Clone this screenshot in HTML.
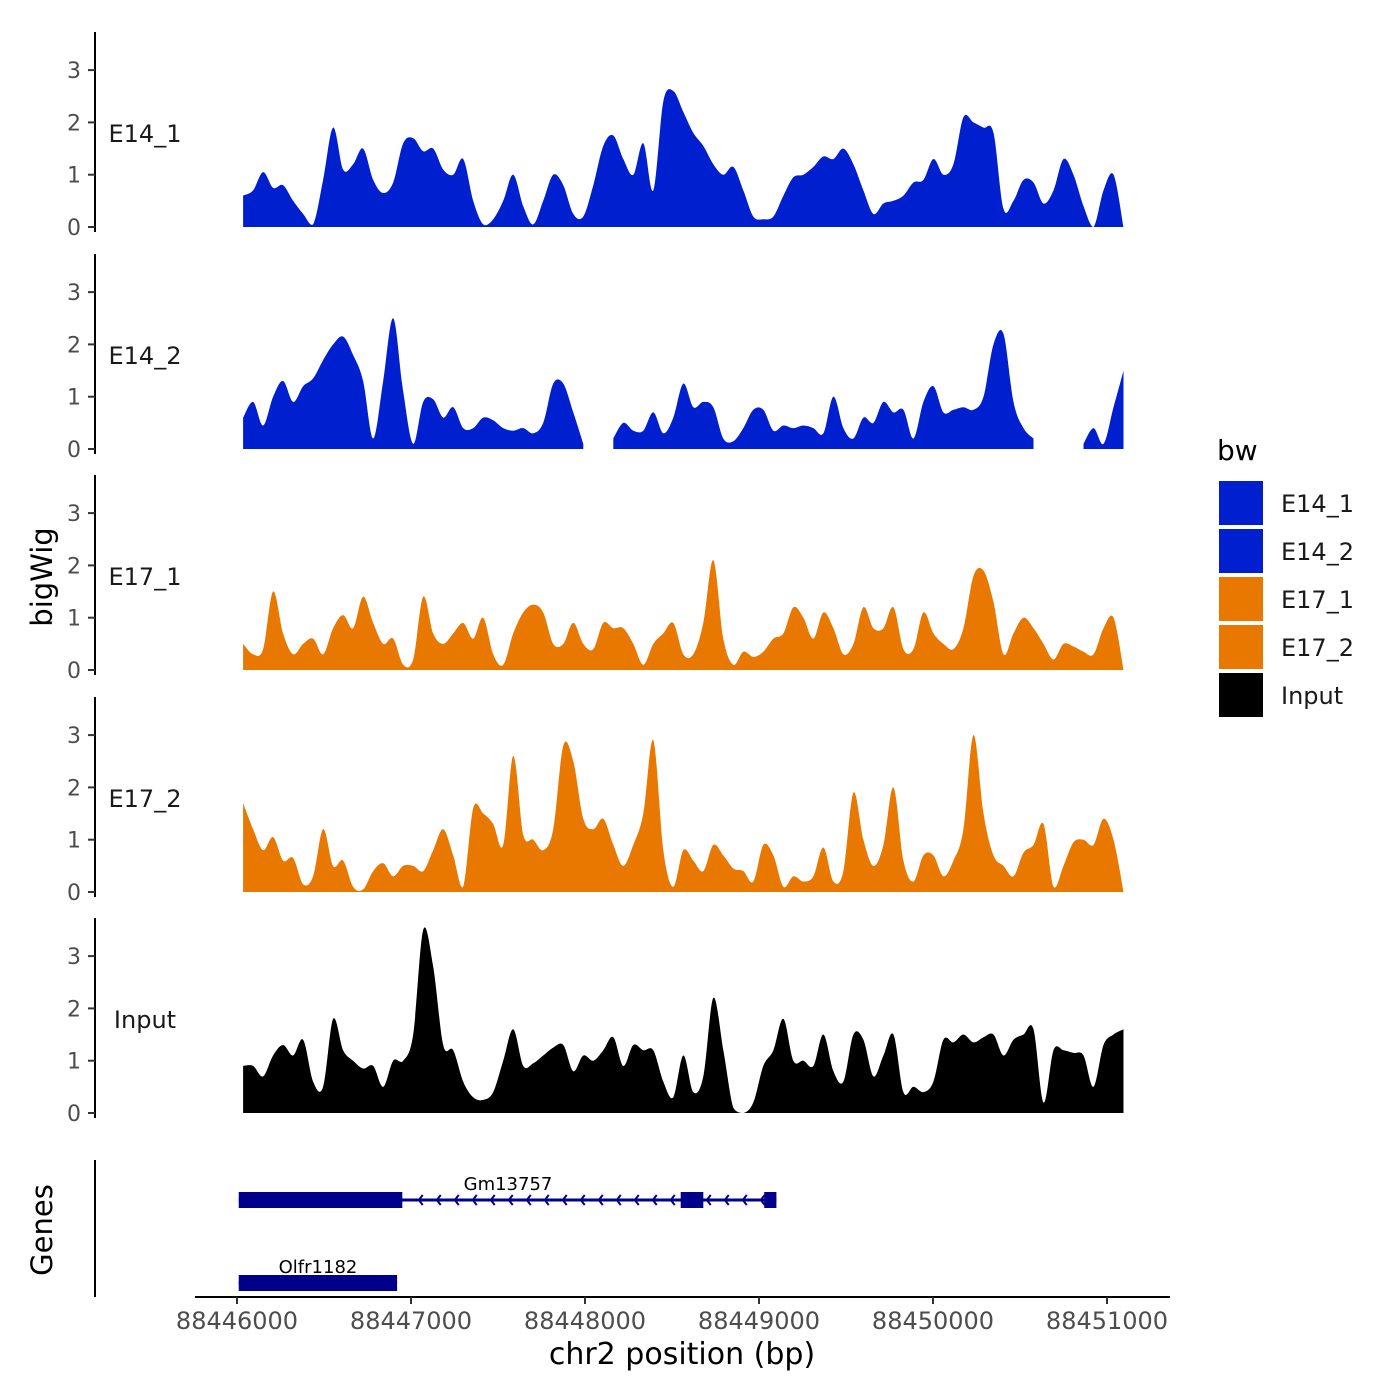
<!DOCTYPE html>
<html><head><meta charset="utf-8"><style>
body{margin:0;background:#fff;}
svg{display:block;font-family:"DejaVu Sans","Liberation Sans",sans-serif;}
</style></head><body>
<svg id="chart" width="1400" height="1400" viewBox="0 0 1400 1400">
<g id="panels"></g>
<g id="genes"></g>
<g id="xaxis"></g>
<text x="52" y="577" font-size="29" text-anchor="middle" transform="rotate(-90 52 577)">bigWig</text>
<text x="52" y="1230" font-size="29" text-anchor="middle" transform="rotate(-90 52 1230)">Genes</text>
<text x="682" y="1364" font-size="30" text-anchor="middle">chr2 position (bp)</text>
<g id="legend"></g>
</svg>
<script>
const binStart = 88446035;
const binSize = 57.5;
const trackNames = ["E14_1","E14_2","E17_1","E17_2","Input"];
const trackColors = ["#0020D0","#0020D0","#E87800","#E87800","#000000"];
const yTicks = [0,1,2,3];
const xTicks = [88446000,88447000,88448000,88449000,88450000,88451000];
const xTickLabels = ["88446000","88447000","88448000","88449000","88450000","88451000"];
const e14_1 = [0.6,0.7,1.05,0.75,0.8,0.5,0.25,0.05,0.9,1.9,1.1,1.2,1.5,0.9,0.65,0.85,1.6,1.7,1.45,1.5,1.1,1.0,1.3,0.5,0.05,0.15,0.5,1.0,0.4,0.05,0.5,1.0,0.8,0.25,0.2,0.8,1.55,1.75,1.3,1.0,1.6,0.7,2.4,2.6,2.2,1.8,1.55,1.2,1.0,1.15,0.7,0.2,0.15,0.2,0.6,0.95,1.0,1.15,1.35,1.3,1.5,1.2,0.7,0.25,0.45,0.5,0.6,0.85,0.9,1.3,1.0,1.2,2.1,2.0,1.9,1.8,0.35,0.5,0.9,0.85,0.45,0.7,1.3,1.0,0.4,0,0.7,1.0,0];
const e14_2 = [0.6,0.9,0.45,1.0,1.3,0.9,1.2,1.35,1.7,2.0,2.15,1.8,1.3,0.2,1.3,2.5,1.1,0.1,0.9,0.95,0.6,0.8,0.4,0.4,0.6,0.55,0.4,0.35,0.4,0.3,0.5,1.25,1.25,0.7,0.1,null,null,0.2,0.5,0.35,0.35,0.7,0.3,0.6,1.25,0.8,0.9,0.8,0.2,0.15,0.4,0.75,0.75,0.35,0.45,0.4,0.45,0.4,0.3,1.0,0.4,0.2,0.6,0.5,0.9,0.7,0.75,0.2,0.9,1.2,0.7,0.75,0.8,0.75,1.0,2.0,2.2,0.9,0.4,0.2,null,null,null,null,0.1,0.4,0.1,0.8,1.5];
const e17_1 = [0.5,0.3,0.4,1.5,0.7,0.3,0.5,0.6,0.3,0.8,1.05,0.8,1.4,0.9,0.5,0.6,0.1,0.2,1.4,0.7,0.5,0.7,0.9,0.6,1.0,0.3,0.1,0.7,1.1,1.25,1.1,0.5,0.5,0.9,0.5,0.4,0.9,0.8,0.8,0.5,0.1,0.5,0.7,0.9,0.3,0.3,0.9,2.1,0.6,0.1,0.35,0.25,0.35,0.6,0.7,1.2,1.0,0.6,1.1,0.8,0.3,0.5,1.2,0.8,0.8,1.2,0.4,0.4,1.1,0.7,0.5,0.4,0.8,1.8,1.9,1.3,0.3,0.7,1.0,0.8,0.5,0.2,0.5,0.45,0.35,0.3,0.8,1.0,0];
const e17_2 = [1.7,1.2,0.8,1.05,0.6,0.65,0.15,0.3,1.2,0.5,0.6,0.1,0.05,0.4,0.55,0.3,0.5,0.5,0.4,0.8,1.2,0.7,0.1,1.6,1.5,1.3,0.9,2.6,1.1,1.0,0.8,1.2,2.8,2.5,1.4,1.2,1.4,0.9,0.5,0.9,1.5,2.9,0.8,0.1,0.8,0.6,0.4,0.9,0.7,0.45,0.4,0.2,0.9,0.7,0.1,0.3,0.2,0.3,0.85,0.2,0.4,1.9,1.0,0.5,0.9,2.0,0.6,0.2,0.7,0.7,0.3,0.6,1.2,3.0,1.5,0.7,0.5,0.3,0.75,0.9,1.3,0.1,0.5,0.95,1.0,0.9,1.4,1.0,0];
const input = [0.9,0.9,0.7,1.1,1.3,1.1,1.4,0.6,0.5,1.8,1.2,1.0,0.85,0.9,0.5,1.0,1.0,1.5,3.5,2.8,1.3,1.2,0.6,0.3,0.25,0.4,1.0,1.6,0.9,0.95,1.1,1.25,1.3,0.8,1.1,1.0,1.2,1.45,0.9,1.3,1.2,1.2,0.6,0.3,1.1,0.4,0.7,2.2,1.2,0.1,0.0,0.2,0.9,1.2,1.8,1.0,1.0,0.9,1.5,0.8,0.6,1.5,1.4,0.7,1.1,1.5,0.4,0.5,0.4,0.6,1.4,1.35,1.5,1.35,1.45,1.5,1.1,1.4,1.5,1.6,0.2,1.2,1.2,1.15,1.1,0.5,1.3,1.5,1.6];
const trackValues = [e14_1,e14_2,e17_1,e17_2,input];
const geneNames = ["Gm13757","Olfr1182"];
const geneStarts = [88446010,88446010];
const geneEnds = [88449100,88446920];
const exonStarts = [[88446010,88448550,88449030],[88446010]];
const exonEnds = [[88446950,88448680,88449100],[88446920]];

const NS="http://www.w3.org/2000/svg";
function mk(tag,attrs,parent){const e=document.createElementNS(NS,tag);for(const k in attrs)e.setAttribute(k,attrs[k]);parent.appendChild(e);return e;}
function xs(bp){return 237+(bp-88446000)*0.174;}
const panelZero=[227,449,670,892,1113];
const unit=52.3;
function ys(v,p){return panelZero[p]-v*unit;}

const panels=document.getElementById('panels');
trackNames.forEach((nm,p)=>{
  const g=mk('g',{},panels);
  
  
  const top=panelZero[p]-195, bot=panelZero[p]+5;
  const ax=mk('line',{x1:95,x2:95,y1:top,y2:bot,stroke:'#000','stroke-width':2},g);
  
  
  yTicks.forEach(t=>{
    const y=ys(t,p);
    const tk=mk('line',{x1:88,x2:95,y1:y,y2:y,stroke:'#333','stroke-width':2},g);
    
    
    const tl=mk('text',{x:81,y:y+8,'font-size':22,fill:'#4d4d4d','text-anchor':'end'},g);
    tl.textContent=t;
    
    
  });
  const lab=mk('text',{x:145,y:panelZero[p]-85,'font-size':24,'text-anchor':'middle',fill:'#1a1a1a'},g);
  lab.textContent=nm;
  
  
  const vals=trackValues[p];
  let run=[];
  const z=panelZero[p];
  const flush=()=>{
    if(run.length){
      let d='M'+run[0][0].toFixed(1)+','+z+' L'+run[0][0].toFixed(1)+','+run[0][1].toFixed(1);
      for(let i=0;i<run.length-1;i++){
        const p0=run[Math.max(0,i-1)],p1=run[i],p2=run[i+1],p3=run[Math.min(run.length-1,i+2)];
        const c1x=p1[0]+(p2[0]-p0[0])/6,c1y=Math.min(z,p1[1]+(p2[1]-p0[1])/6);
        const c2x=p2[0]-(p3[0]-p1[0])/6,c2y=Math.min(z,p2[1]-(p3[1]-p1[1])/6);
        d+=` C${c1x.toFixed(1)},${c1y.toFixed(1)} ${c2x.toFixed(1)},${c2y.toFixed(1)} ${p2[0].toFixed(1)},${p2[1].toFixed(1)}`;
      }
      d+=' L'+run[run.length-1][0].toFixed(1)+','+z+' Z';
      const a=mk('path',{d:d,fill:trackColors[p]},g);
      
      
    }
    run=[];
  };
  vals.forEach((v,i)=>{
    if(v===null){flush();return;}
    run.push([xs(binStart+i*binSize),ys(v,p)]);
  });
  flush();
});

const genes=document.getElementById('genes');
const ga=mk('line',{x1:95,x2:95,y1:1160,y2:1297,stroke:'#000','stroke-width':2},genes);


const geneY=[1200,1283];
geneNames.forEach((nm,i)=>{
  const g=mk('g',{},genes);
  
  
  const y=geneY[i];
  const x1=xs(geneStarts[i]),x2=xs(geneEnds[i]);
  mk('line',{x1:x1,x2:x2,y1:y,y2:y,stroke:'#00008B','stroke-width':3},g);
  if(i===0){
    for(let x=x1+180;x<x2-10;x+=18){
      mk('path',{d:`M${x+4},${y-5} L${x},${y} L${x+4},${y+5}`,fill:'none',stroke:'#00008B','stroke-width':2},g);
    }
  }
  exonStarts[i].forEach((s,j)=>{
    const ex=mk('rect',{x:xs(s),y:y-8,width:xs(exonEnds[i][j])-xs(s),height:16,fill:'#00008B'},g);
    
    
  });
  const t=mk('text',{x:i===0?508:318,y:y-10,'font-size':18,'text-anchor':'middle'},g);
  t.textContent=nm;
  
  
});

const xa=document.getElementById('xaxis');
mk('line',{x1:195,x2:1170,y1:1297,y2:1297,stroke:'#000','stroke-width':2},xa);
xTicks.forEach((t,i)=>{
  const x=xs(t);
  const tk=mk('line',{x1:x,x2:x,y1:1297,y2:1304,stroke:'#333','stroke-width':2},xa);
  
  
  const tl=mk('text',{x:x,y:1329,'font-size':24,fill:'#4d4d4d','text-anchor':'middle'},xa);
  tl.textContent=xTickLabels[i];
  
  
});

const lg=document.getElementById('legend');
const lt=mk('text',{x:1217,y:460,'font-size':28},lg);
lt.textContent='bw';


trackNames.forEach((nm,i)=>{
  const g=mk('g',{},lg);
  
  
  mk('rect',{x:1218,y:480+i*48,width:46,height:46,fill:trackColors[i],stroke:'#fff','stroke-width':2},g);
  const t=mk('text',{x:1281,y:512+i*48,'font-size':24,fill:'#1a1a1a'},g);
  t.textContent=nm;
});
</script>
</body></html>
